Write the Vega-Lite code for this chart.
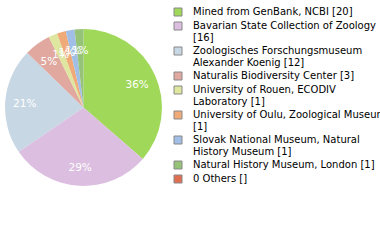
{
  "$schema": "https://vega.github.io/schema/vega-lite/v6.json",
  "autosize": "none",
  "width": 157,
  "height": 157,
  "padding": {"left": 5, "top": 29, "right": 218, "bottom": 54},
  "background": "white",
  "config": {"view": {"stroke": null}, "font": "DejaVu Sans"},
  "data": {
    "values": [
      {"name": "Mined from GenBank, NCBI [20]", "count": 20, "pct": "36%", "order": 1},
      {"name": "Bavarian State Collection of Zoology|[16]", "count": 16, "pct": "29%", "order": 2},
      {"name": "Zoologisches Forschungsmuseum|Alexander Koenig [12]", "count": 12, "pct": "21%", "order": 3},
      {"name": "Naturalis Biodiversity Center [3]", "count": 3, "pct": "5%", "order": 4},
      {"name": "University of Rouen, ECODIV|Laboratory [1]", "count": 1, "pct": "1%", "order": 5},
      {"name": "University of Oulu, Zoological Museum|[1]", "count": 1, "pct": "1%", "order": 6},
      {"name": "Slovak National Museum, Natural|History Museum [1]", "count": 1, "pct": "1%", "order": 7},
      {"name": "Natural History Museum, London [1]", "count": 1, "pct": "1%", "order": 8},
      {"name": "0 Others []", "count": 0, "pct": "", "order": 9}
    ]
  },
  "encoding": {
    "theta": {"field": "count", "type": "quantitative", "stack": true},
    "order": {"field": "order", "type": "quantitative"}
  },
  "layer": [
    {
      "mark": {"type": "arc", "outerRadius": 78.5},
      "encoding": {
        "color": {
          "field": "name",
          "type": "nominal",
          "sort": {"field": "order"},
          "scale": {
            "domain": [
              "Mined from GenBank, NCBI [20]",
              "Bavarian State Collection of Zoology|[16]",
              "Zoologisches Forschungsmuseum|Alexander Koenig [12]",
              "Naturalis Biodiversity Center [3]",
              "University of Rouen, ECODIV|Laboratory [1]",
              "University of Oulu, Zoological Museum|[1]",
              "Slovak National Museum, Natural|History Museum [1]",
              "Natural History Museum, London [1]",
              "0 Others []"
            ],
            "range": ["#a0d85a", "#dcbee0", "#c8d7e4", "#e0a89e", "#dee6a0", "#f0aa78", "#a0bee6", "#96c378", "#e06e50"]
          },
          "legend": {
            "title": null,
            "orient": "none",
            "legendX": 168,
            "legendY": -22,
            "padding": 0,
            "symbolType": "square",
            "symbolSize": 64,
            "symbolStrokeColor": "#888888",
            "symbolStrokeWidth": 1,
            "labelFont": "DejaVu Sans",
            "labelFontSize": 10,
            "labelColor": "#000000",
            "labelLimit": 300,
            "labelOffset": 10,
            "rowPadding": 2,
            "labelExpr": "split(datum.label, '|')"
          }
        }
      }
    },
    {
      "transform": [{"filter": "datum.count > 0"}],
      "mark": {"type": "text", "radius": 59, "dy": 2, "fontSize": 10.5, "font": "DejaVu Sans"},
      "encoding": {
        "text": {"field": "pct"},
        "color": {"value": "white"}
      }
    }
  ]
}
